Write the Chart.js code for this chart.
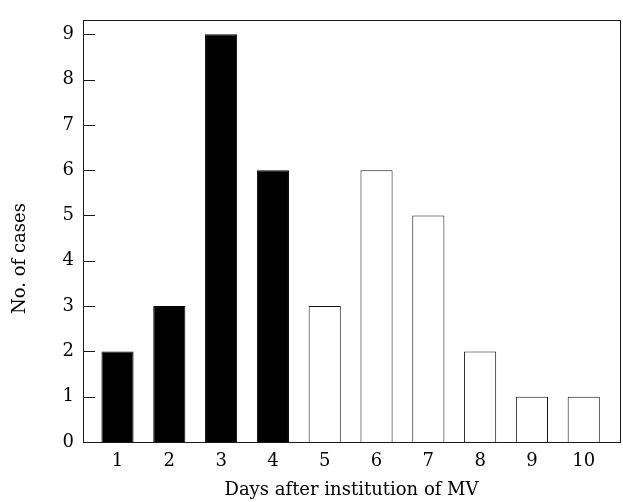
<!DOCTYPE html>
<html>
<head>
<meta charset="utf-8">
<script src="https://cdn.jsdelivr.net/npm/chart.js@4/dist/chart.umd.min.js"></script>
<style>
  html, body { margin: 0; padding: 0; background: #fff; }
  #wrap { width: 623px; height: 502px; }
</style>
</head>
<body>
<div id="wrap"><canvas id="c" width="623" height="502"></canvas></div>
<script>
// Data
const earlyDays = [1, 2, 3, 4];
const earlyCases = [2, 3, 9, 6];
const lateDays = [5, 6, 7, 8, 9, 10];
const lateCases = [3, 6, 5, 2, 1, 1];
const xTickLabels = [1, 2, 3, 4, 5, 6, 7, 8, 9, 10];
const yTickLabels = [0, 1, 2, 3, 4, 5, 6, 7, 8, 9];
const xTitle = 'Days after institution of MV';
const yTitle = 'No. of cases';

const FONT = '"DejaVu Serif", "Liberation Serif", serif';
const FSIZE = 18;

const framePlugin = {
  id: 'frame',
  afterDatasetsDraw(chart) {
    const { ctx, chartArea: a, scales } = chart;
    ctx.save();
    ctx.strokeStyle = '#1a1a1a';
    ctx.lineWidth = 1;
    ctx.strokeRect(Math.round(a.left) + 0.5, Math.round(a.top) + 0.5,
                   Math.round(a.right - a.left), Math.round(a.bottom - a.top));
    // inward ticks on left axis
    const y = scales.y;
    ctx.beginPath();
    y.ticks.forEach(t => {
      const py = Math.round(y.getPixelForValue(t.value)) + 0.5;
      ctx.moveTo(a.left, py);
      ctx.lineTo(a.left + 12, py);
    });
    ctx.stroke();
    ctx.restore();
  },
  afterDraw(chart) {
    // y-axis title, placed a little below the middle as in the reference
    const { ctx, scales } = chart;
    const y = scales.y;
    const cy = y.getPixelForValue(4.05);
    ctx.save();
    ctx.translate(20, cy);
    ctx.rotate(-Math.PI / 2);
    ctx.fillStyle = '#000';
    ctx.font = FSIZE + 'px ' + FONT;
    ctx.textAlign = 'center';
    ctx.textBaseline = 'middle';
    ctx.fillText(yTitle, 0, 0);
    ctx.restore();
  }
};

new Chart(document.getElementById('c'), {
  type: 'bar',
  data: {
    datasets: [
      {
        label: 'early',
        data: earlyDays.map((d, i) => ({ x: d, y: earlyCases[i] })),
        backgroundColor: '#000',
        borderColor: '#000',
        borderWidth: 1
      },
      {
        label: 'late',
        data: lateDays.map((d, i) => ({ x: d, y: lateCases[i] })),
        backgroundColor: '#fff',
        borderColor: '#111',
        borderWidth: 1
      }
    ]
  },
  options: {
    responsive: false,
    animation: false,
    devicePixelRatio: 1,
    grouped: false,
    barPercentage: 0.62,
    categoryPercentage: 1.0,
    layout: { padding: { top: 10, right: 3, left: 0, bottom: 0 } },
    plugins: {
      legend: { display: false },
      tooltip: { enabled: false }
    },
    scales: {
      x: {
        type: 'linear',
        offset: false,
        min: 0.334,
        max: 10.7,
        afterBuildTicks: s => { s.ticks = xTickLabels.map(v => ({ value: v })); },
        afterFit: s => { s.height = 60; },
        grid: { display: false, drawTicks: false, offset: false },
        border: { display: false },
        ticks: {
          padding: 9,
          color: '#000',
          font: { family: FONT, size: FSIZE },
          maxRotation: 0,
          autoSkip: false
        },
        title: {
          display: true,
          text: xTitle,
          color: '#000',
          font: { family: FONT, size: FSIZE },
          padding: { top: 0, bottom: 1 }
        }
      },
      y: {
        type: 'linear',
        min: 0,
        max: 9.32,
        afterBuildTicks: s => { s.ticks = yTickLabels.map(v => ({ value: v })); },
        afterFit: s => { s.width = 83; },
        grid: { display: false, drawTicks: false },
        border: { display: false },
        ticks: {
          padding: 9,
          color: '#000',
          font: { family: FONT, size: FSIZE }
        },
        title: { display: false }
      }
    }
  },
  plugins: [framePlugin]
});
</script>
</body>
</html>
